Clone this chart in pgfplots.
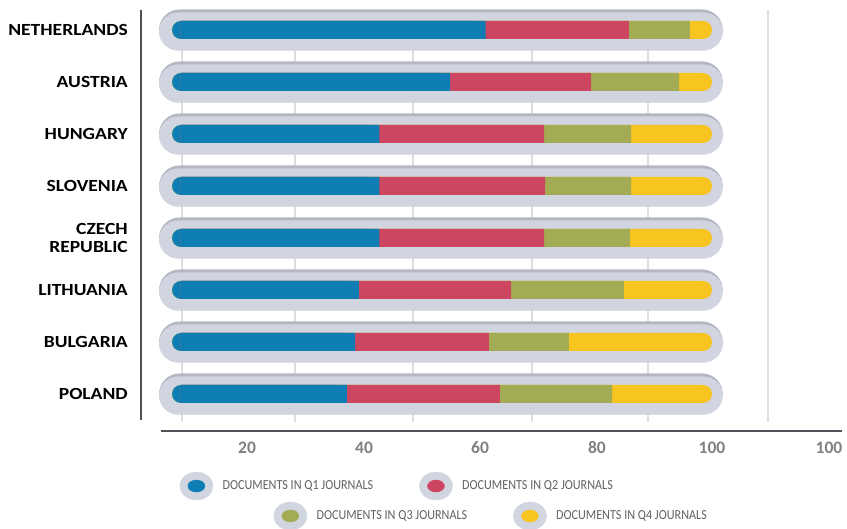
\documentclass[border=0pt]{standalone}
\usepackage{fontspec}
\setmainfont{Carlito}
\newfontfamily\labelfont{Carlito}[FakeStretch=1.15]
\newfontfamily\legfont{Carlito}[FakeStretch=0.88]
\usepackage{pgfplots}
\pgfplotsset{compat=1.18}
\usepackage{pgfplotstable}
\definecolor{capgrey}{RGB}{208,213,224}
\definecolor{caprim}{RGB}{178,183,194}
\definecolor{qblue}{RGB}{14,125,180}
\definecolor{qred}{RGB}{204,70,98}
\definecolor{qgreen}{RGB}{163,172,84}
\definecolor{qyellow}{RGB}{248,196,32}
\definecolor{axisdark}{RGB}{78,83,90}
\definecolor{gridgrey}{RGB}{222,222,222}
\definecolor{ticktext}{RGB}{128,128,128}
\definecolor{legtext}{RGB}{96,97,99}

% share of documents (%) by journal quartile; row 0 = top
\pgfplotstableread{
row q1 q2 q3 q4
0 58.1 26.5 11.3 4.1
1 51.5 26.1 16.3 6.1
2 38.4 30.5 16.1 15.0
3 38.4 30.7 15.9 15.0
4 38.4 30.5 15.9 15.2
5 34.6 28.2 20.9 16.3
6 33.9 24.8 14.8 26.5
7 32.4 28.3 20.8 18.5
}\shares

\pgfplotsset{
  ledot/.style={legend image code/.code={
    \fill[capgrey] (8pt,0pt) ellipse [x radius=16.5pt, y radius=14pt];
    \fill[#1] (8pt,0pt) ellipse [x radius=8.5pt, y radius=6pt];}},
  common/.style={
    at={(140pt,97pt)}, anchor=south west,
    scale only axis, width=707pt, height=422pt,
    xmin=-5.926, xmax=125, ymin=-0.3846, ymax=7.7308, y dir=reverse,
    clip=false,
  },
  legcommon/.style={legend style={draw=none, fill=none, inner sep=0pt,
      anchor=west, legend columns=2,
      font=\legfont\fontsize{13.8}{15}\selectfont, text=legtext,
      nodes={inner sep=0pt},
      /tikz/every odd column/.append style={column sep=9.5pt},
      /tikz/every even column/.append style={column sep=46pt}}},
}

\begin{document}
\begin{tikzpicture}[x=1pt,y=1pt]
\useasboundingbox (0,0) rectangle (847,529);
\begin{axis}[common, legcommon,
  axis line style={draw=none},
  major tick length=0pt,
  ytick={0,...,7},
  yticklabels={NETHERLANDS,AUSTRIA,HUNGARY,SLOVENIA,{CZECH\\REPUBLIC},LITHUANIA,BULGARIA,POLAND},
  yticklabel style={font=\labelfont\bfseries\fontsize{17}{18}\selectfont, text=black,
    align=right, anchor=east, inner sep=0pt, xshift=-12pt},
  xtick={13.89,35.56,57.04,78.70,100,121.67},
  xticklabels={20,40,60,80,100,100},
  xticklabel style={font=\bfseries\fontsize{17.5}{17.5}\selectfont, text=ticktext, yshift=-6pt},
  legend style={at={(0.0559,-0.128)}},
]
\pgfplotsinvokeforeach{1.85,22.78,44.63,66.67,88.15,110.37}{
  \draw[gridgrey, line width=2pt] (axis cs:#1,-0.3846) -- (axis cs:#1,7.538);
}
% grey capsules: darker rim, then lighter body
\addplot[forget plot, xbar, bar width=41pt, bar shift=0pt, rounded corners=20.5pt,
  fill=caprim, draw=none, xshift=-13pt]
  table[x expr=\thisrow{q1}+\thisrow{q2}+\thisrow{q3}+\thisrow{q4}+4.4, y=row] {\shares};
\addplot[forget plot, xbar, bar width=38pt, bar shift=0pt, rounded corners=19pt,
  fill=capgrey, draw=none, xshift=-13pt, yshift=-1.5pt]
  table[x expr=\thisrow{q1}+\thisrow{q2}+\thisrow{q3}+\thisrow{q4}+4.4, y=row] {\shares};
% rounded outer ends
\addplot[forget plot, xbar, bar width=18pt, bar shift=0pt, rounded corners=9pt,
  fill=qyellow, draw=none]
  table[x expr=\thisrow{q1}+\thisrow{q2}+\thisrow{q3}+\thisrow{q4}, y=row] {\shares};
\addplot[forget plot, xbar, bar width=18pt, bar shift=0pt, rounded corners=9pt,
  fill=qblue, draw=none]
  table[x=q1, y=row] {\shares};
% square segments (start 9pt in)
\addplot[forget plot, xbar, bar width=18pt, bar shift=0pt, fill=qgreen, draw=none, xshift=9pt]
  table[x expr=\thisrow{q1}+\thisrow{q2}+\thisrow{q3}-1.6667, y=row] {\shares};
\addplot[forget plot, xbar, bar width=18pt, bar shift=0pt, fill=qred, draw=none, xshift=9pt]
  table[x expr=\thisrow{q1}+\thisrow{q2}-1.6667, y=row] {\shares};
\addplot[forget plot, xbar, bar width=18pt, bar shift=0pt, fill=qblue, draw=none, xshift=9pt]
  table[x expr=\thisrow{q1}-1.6667, y=row] {\shares};
% axis lines
\draw[axisdark, line width=2.6pt] (axis cs:-5.74,-0.3846) -- (axis cs:-5.74,7.50);
\draw[axisdark, line width=2.6pt] (axis cs:-2.04,7.712) -- (axis cs:124.1,7.712);
\addlegendimage{ledot=qblue}
\addlegendentry{DOCUMENTS IN Q1 JOURNALS}
\addlegendimage{ledot=qred}
\addlegendentry{DOCUMENTS IN Q2 JOURNALS}
\end{axis}
\begin{axis}[common, legcommon, hide axis,
  legend style={at={(0.1888,-0.199)}}]
\addlegendimage{ledot=qgreen}
\addlegendentry{DOCUMENTS IN Q3 JOURNALS}
\addlegendimage{ledot=qyellow}
\addlegendentry{DOCUMENTS IN Q4 JOURNALS}
\end{axis}
\end{tikzpicture}
\end{document}
